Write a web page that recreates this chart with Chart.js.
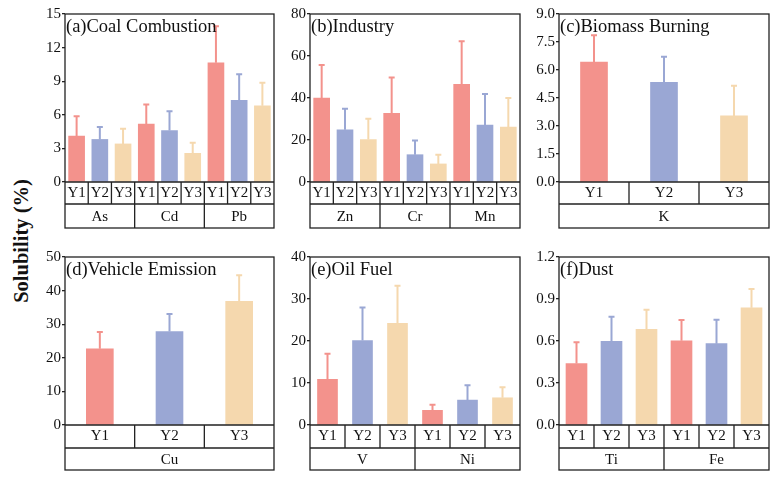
<!DOCTYPE html>
<html>
<head>
<meta charset="utf-8">
<script src="https://cdn.jsdelivr.net/npm/chart.js@4.4.0/dist/chart.umd.min.js"></script>
<style>
body{margin:0;background:#fff}
#wrap{position:relative;width:777px;height:478px;overflow:hidden}
.panel{position:absolute}
#ytitle{position:absolute;left:21px;top:241px;transform:translate(-50%,-50%) rotate(-90deg);font:bold 20.5px "Liberation Serif";white-space:nowrap;color:#111}
</style>
</head>
<body>
<div id="wrap">
<div id="ytitle">Solubility (%)</div>
<div class="panel" id="pa"><canvas id="ca"></canvas></div>
<div class="panel" id="pb"><canvas id="cb"></canvas></div>
<div class="panel" id="pc"><canvas id="cc"></canvas></div>
<div class="panel" id="pd"><canvas id="cd"></canvas></div>
<div class="panel" id="pe"><canvas id="ce"></canvas></div>
<div class="panel" id="pf"><canvas id="cf"></canvas></div>
</div>
<script>
// data (mean and upper sd)
const years = ["Y1","Y2","Y3"]

const coalElems = ["As","Cd","Pb"]
const coalMean = [4.1,3.8,3.4, 5.18,4.6,2.56, 10.65,7.3,6.8]
const coalSd = [1.85,1.2,1.45, 1.82,1.8,1.04, 3.35,2.4,2.15]
const coalTicks = [0,3,6,9,12,15]

const industryElems = ["Zn","Cr","Mn"]
const industryMean = [40,24.9,20.2, 32.7,13,8.6, 46.5,27.1,26.2]
const industrySd = [16.2,10.5,10.4, 17.5,7.2,4.9, 21,15.3,14.3]
const industryTicks = [0,20,40,60,80]

const biomassElems = ["K"]
const biomassMean = [6.43,5.34,3.54]
const biomassSd = [1.48,1.43,1.67]
const biomassTicks = [0,1.5,3,4.5,6,7.5,9]

const vehicleElems = ["Cu"]
const vehicleMean = [22.7,27.8,36.8]
const vehicleSd = [5.3,5.5,8.1]
const vehicleTicks = [0,10,20,30,40,50]

const oilElems = ["V","Ni"]
const oilMean = [10.9,20.1,24.2, 3.5,5.93,6.48]
const oilSd = [6.3,8.1,9.2, 1.56,3.8,2.77]
const oilTicks = [0,10,20,30,40]

const dustElems = ["Ti","Fe"]
const dustMean = [0.439,0.598,0.683, 0.602,0.581,0.837]
const dustSd = [0.159,0.182,0.147, 0.155,0.178,0.142]
const dustTicks = [0,0.3,0.6,0.9,1.2]

const colors = ["#F3928C","#9AA7D4","#F5D8AE"]
const lineColor = "#222"
const serif = "'Liberation Serif','Times New Roman',serif"

// extra info per canvas (title, groups, error bars)
const panels = {}

const boxPlugin = {
id:"boxes",
afterDatasetsDraw(chart){
const c = panels[chart.canvas.id]
const ctx = chart.ctx
const x = chart.scales.x, y = chart.scales.y
// error bars
ctx.save()
c.mean.forEach((m,i)=>{
const px = x.getPixelForValue(i)
const y0 = y.getPixelForValue(m)
const y1 = y.getPixelForValue(m + c.sd[i])
ctx.strokeStyle = colors[i % 3]
ctx.lineWidth = 2
ctx.beginPath()
ctx.moveTo(px, y0)
ctx.lineTo(px, y1)
ctx.moveTo(px - 3, y1 + 1)
ctx.lineTo(px + 3, y1 + 1)
ctx.stroke()
})
ctx.restore()
},
afterDraw(chart){
const c = panels[chart.canvas.id]
const ctx = chart.ctx
const a = chart.chartArea
const x = chart.scales.x
const n = c.mean.length
const r1 = a.bottom + c.rows[0]
const r2 = r1 + c.rows[1]
ctx.save()
ctx.strokeStyle = lineColor
ctx.lineWidth = 1.3
ctx.strokeRect(a.left, a.top, a.right - a.left, r2 - a.top)
ctx.beginPath()
ctx.moveTo(a.left, a.bottom); ctx.lineTo(a.right, a.bottom)
ctx.moveTo(a.left, r1); ctx.lineTo(a.right, r1)
for(let i = 1; i < n; i++){
const bx = x.getPixelForDecimal(i / n)
ctx.moveTo(bx, a.bottom); ctx.lineTo(bx, r1)
}
const per = n / c.groups.length
for(let g = 1; g < c.groups.length; g++){
const bx = x.getPixelForDecimal(g * per / n)
ctx.moveTo(bx, r1); ctx.lineTo(bx, r2)
}
ctx.stroke()
// group names
ctx.fillStyle = "#111"
ctx.font = "15px " + serif
ctx.textAlign = "center"
ctx.textBaseline = "middle"
c.groups.forEach((g,k)=>{
const gx = x.getPixelForDecimal((k + 0.5) * per / n)
ctx.fillText(g, gx, (r1 + r2) / 2 + 1)
})
// panel title
ctx.font = "18.5px " + serif
ctx.textAlign = "left"
ctx.textBaseline = "alphabetic"
ctx.fillText(c.title, a.left + 1, a.top + 18)
ctx.restore()
}
}

function makePanel(id, place, title, groups, mean, sd, ticks, decimals, barW){
const rows = place.rows
const div = document.getElementById("p" + id)
div.style.left = (place.left - 45) + "px"
div.style.top = (place.top - 14) + "px"
div.style.width = (place.width + 51) + "px"
div.style.height = (14 + 168 + rows[0] + rows[1] + 6) + "px"

const labels = []
groups.forEach(()=> years.forEach(yr => labels.push(yr)))

panels["c" + id] = {title, groups, mean, sd, rows}

new Chart(document.getElementById("c" + id), {
type:"bar",
data:{
labels:labels,
datasets:[{
data:mean,
backgroundColor:mean.map((v,i)=>colors[i % 3]),
barThickness:barW
}]
},
options:{
responsive:true,
maintainAspectRatio:false,
animation:false,
layout:{padding:{top:14,right:6,bottom:6,left:0}},
plugins:{legend:{display:false},tooltip:{enabled:false}},
scales:{
x:{
grid:{display:false,drawTicks:false},
border:{display:false},
ticks:{color:"#111",font:{family:serif,size:15},padding:2,maxRotation:0,autoSkip:false},
afterFit(s){ s.height = rows[0] + rows[1] }
},
y:{
min:ticks[0],
max:ticks[ticks.length - 1],
grid:{drawOnChartArea:false,drawTicks:true,tickLength:3,color:lineColor,lineWidth:1.3},
border:{display:false},
ticks:{color:"#111",font:{family:serif,size:15},padding:1,
callback:v => decimals ? Number(v).toFixed(decimals) : v},
afterBuildTicks(s){ s.ticks = ticks.map(v => ({value:v})) },
afterFit(s){ s.width = 45 }
}
}
},
plugins:[boxPlugin]
})
}

const topRows = [22,24]
const bottomRows = [23,22]

makePanel("a", {left:65, top:14, width:209, rows:topRows}, "(a)Coal Combustion", coalElems, coalMean, coalSd, coalTicks, 0, 16)
makePanel("b", {left:310, top:14, width:210, rows:topRows}, "(b)Industry", industryElems, industryMean, industrySd, industryTicks, 0, 16)
makePanel("c", {left:559, top:14, width:210, rows:topRows}, "(c)Biomass Burning", biomassElems, biomassMean, biomassSd, biomassTicks, 1, 27)
makePanel("d", {left:65, top:257, width:209, rows:bottomRows}, "(d)Vehicle Emission", vehicleElems, vehicleMean, vehicleSd, vehicleTicks, 0, 27)
makePanel("e", {left:310, top:257, width:210, rows:bottomRows}, "(e)Oil Fuel", oilElems, oilMean, oilSd, oilTicks, 0, 20)
makePanel("f", {left:559, top:257, width:210, rows:bottomRows}, "(f)Dust", dustElems, dustMean, dustSd, dustTicks, 1, 21)
</script>
</body>
</html>
